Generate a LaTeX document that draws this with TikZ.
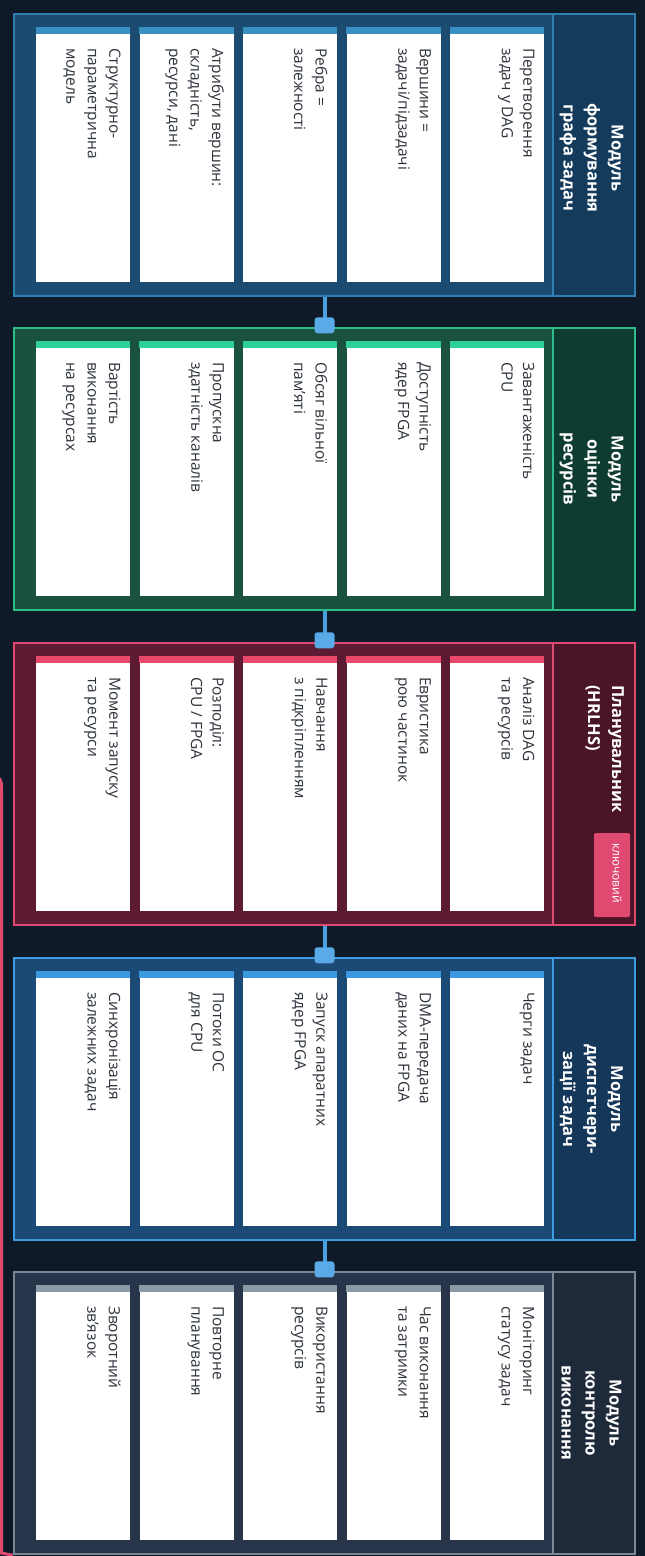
\documentclass[tikz,border=0pt]{standalone}
\usepackage{fontspec}
\setmainfont{Open Sans}
\usetikzlibrary{calc}
\definecolor{bg}{HTML}{0E1A28}
\definecolor{cardtxt}{HTML}{2E343C}
\definecolor{connc}{HTML}{4A9FE0}
\definecolor{connsqc}{HTML}{5AAAE8}
% module 1
\definecolor{aB}{HTML}{2E80B0}\definecolor{aF}{HTML}{1B4B70}\definecolor{aH}{HTML}{153B5C}\definecolor{aS}{HTML}{3A90C2}
% module 2
\definecolor{bB}{HTML}{2DBD8A}\definecolor{bF}{HTML}{1A5141}\definecolor{bH}{HTML}{0F3C30}\definecolor{bS}{HTML}{2FCF9C}
% module 3
\definecolor{cB}{HTML}{E04A70}\definecolor{cF}{HTML}{5C1A33}\definecolor{cH}{HTML}{4A1529}\definecolor{cS}{HTML}{E8486C}
% module 4
\definecolor{dB}{HTML}{3D9BE0}\definecolor{dF}{HTML}{1C4A76}\definecolor{dH}{HTML}{14375A}\definecolor{dS}{HTML}{3B9ADF}
% module 5
\definecolor{eB}{HTML}{7A8894}\definecolor{eF}{HTML}{283449}\definecolor{eH}{HTML}{1E293A}\definecolor{eS}{HTML}{8B9BA5}
\tikzset{
  modbox/.style n args={2}{draw=#1, fill=#2, line width=2.5pt, minimum width=621pt, minimum height=282pt, inner sep=0pt},
  hdrbox/.style n args={2}{draw=#1, fill=#2, line width=2pt, minimum width=82pt, minimum height=282pt, inner sep=0pt},
  hdrtext/.style={rotate=-90, align=center, inner sep=0pt, text=white, font=\bfseries\fontsize{16.5}{24}\selectfont},
  cardbox/.style={fill=white, draw=none, minimum width=94pt, minimum height=255pt, inner sep=0pt},
  cardtext/.style={rotate=-90, anchor=north west, align=left, inner sep=0pt, text=cardtxt, font=\fontsize{15.5}{21.5}\selectfont},
  conn/.style={draw=connc, line width=4pt},
  connsq/.style={fill=connsqc, rounded corners=3pt, minimum width=20pt, minimum height=16pt, inner sep=0pt},
  fb/.style={draw=cB, line width=3pt},
  badge/.style={fill=cB, rounded corners=2pt, minimum width=36pt, minimum height=84pt, inner sep=0pt},
  badgetext/.style={rotate=-90, inner sep=0pt, text=white, font=\fontsize{12}{13}\selectfont}
}
\newcommand{\mycard}[5]{%
  \pgfmathsetmacro{\cx}{83+103.5*#2}%
  \pgfmathsetmacro{\cy}{#3+140.5}%
  \node[cardbox] (#1) at (\cx,\cy) {};
  \fill[#4] (#1.north west) rectangle ([yshift=-7pt]#1.north east);
  \node[cardtext] (#1t) at ([xshift=-9.5pt,yshift=-21pt]#1.north east) {#5};
}
\begin{document}
\begin{tikzpicture}[x=1pt,y=-1pt]
\useasboundingbox (0,0) rectangle (645,1556);
\clip (0,0) rectangle (645,1556);
\fill[bg] (0,0) rectangle (645,1556);

% modules
\node[modbox={aB}{aF}] (m1) at (324.5,155) {};
\node[modbox={bB}{bF}] (m2) at (324.5,469) {};
\node[modbox={cB}{cF}] (m3) at (324.5,784) {};
\node[modbox={dB}{dF}] (m4) at (324.5,1099) {};
\node[modbox={eB}{eF}] (m5) at (324.5,1413) {};

% headers
\node[hdrbox={aB}{aH}] (h1) at (594,155) {};
\node[hdrbox={bB}{bH}] (h2) at (594,469) {};
\node[hdrbox={cB}{cH}] (h3) at (594,784) {};
\node[hdrbox={dB}{dH}] (h4) at (594,1099) {};
\node[hdrbox={eB}{eH}] (h5) at (594,1413) {};

\node[hdrtext] (h1t) at (591.5,158) {Модуль\\формування\\графа задач};
\node[hdrtext] (h2t) at (591.5,469) {Модуль\\оцінки\\ресурсів};
\node[hdrtext, anchor=north west, align=left] (h3t) at (624,685) {Планувальник\\(HRLHS)};
\node[badge] (kb) at (612,875) {};
\node[badgetext] (kbt) at (617,873) {ключовий};
\node[hdrtext] (h4t) at (591.5,1099) {Модуль\\диспетчери-\\зації задач};
\node[hdrtext] (h5t) at (591.5,1413) {Модуль\\контролю\\виконання};

% feedback loop (partly outside the picture)
\coordinate (fbend) at (-40,770);
\draw[fb] (m5.south west) -- (1.5,1553) -- (1.5,786) to[out=90,in=0] (fbend);

% connectors
\draw[conn] (m1.south) -- (m2.north);
\draw[conn] (m2.south) -- (m3.north);
\draw[conn] (m3.south) -- (m4.north);
\draw[conn] (m4.south) -- (m5.north);
\node[connsq] (s2) at ([yshift=1.5pt]m2.north) {};
\node[connsq] (s3) at ([yshift=1.5pt]m3.north) {};
\node[connsq] (s4) at ([yshift=1.5pt]m4.north) {};
\node[connsq] (s5) at ([yshift=1.5pt]m5.north) {};

% module 1 cards
\mycard{a1}{4}{14}{aS}{Перетворення\\задач у DAG}
\mycard{a2}{3}{14}{aS}{Вершини =\\задачі/підзадачі}
\mycard{a3}{2}{14}{aS}{Ребра =\\залежності}
\mycard{a4}{1}{14}{aS}{Атрибути вершин:\\складність,\\ресурси, дані}
\mycard{a5}{0}{14}{aS}{Структурно-\\параметрична\\модель}

% module 2 cards
\mycard{b1}{4}{328}{bS}{Завантаженість\\CPU}
\mycard{b2}{3}{328}{bS}{Доступність\\ядер FPGA}
\mycard{b3}{2}{328}{bS}{Обсяг вільної\\пам’яті}
\mycard{b4}{1}{328}{bS}{Пропускна\\здатність каналів}
\mycard{b5}{0}{328}{bS}{Вартість\\виконання\\на ресурсах}

% module 3 cards
\mycard{c1}{4}{643}{cS}{Аналіз DAG\\та ресурсів}
\mycard{c2}{3}{643}{cS}{Евристика\\рою частинок}
\mycard{c3}{2}{643}{cS}{Навчання\\з підкріпленням}
\mycard{c4}{1}{643}{cS}{Розподіл:\\CPU / FPGA}
\mycard{c5}{0}{643}{cS}{Момент запуску\\та ресурси}

% module 4 cards
\mycard{d1}{4}{958}{dS}{Черги задач}
\mycard{d2}{3}{958}{dS}{DMA-передача\\даних на FPGA}
\mycard{d3}{2}{958}{dS}{Запуск апаратних\\ядер FPGA}
\mycard{d4}{1}{958}{dS}{Потоки ОС\\для CPU}
\mycard{d5}{0}{958}{dS}{Синхронізація\\залежних задач}

% module 5 cards
\mycard{e1}{4}{1272}{eS}{Моніторинг\\статусу задач}
\mycard{e2}{3}{1272}{eS}{Час виконання\\та затримки}
\mycard{e3}{2}{1272}{eS}{Використання\\ресурсів}
\mycard{e4}{1}{1272}{eS}{Повторне\\планування}
\mycard{e5}{0}{1272}{eS}{Зворотний\\зв’язок}
\end{tikzpicture}
\end{document}
